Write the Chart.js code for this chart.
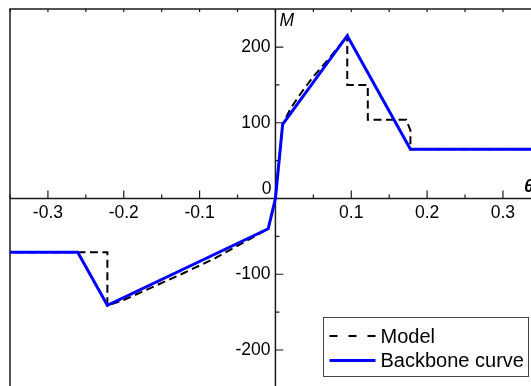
<!DOCTYPE html>
<html>
<head>
<meta charset="utf-8">
<script src="https://cdn.jsdelivr.net/npm/chart.js@4.4.1/dist/chart.umd.min.js"></script>
<style>
  html, body { margin: 0; padding: 0; background: #fff; }
</style>
</head>
<body>
<canvas id="chart" width="531" height="386"></canvas>
<script>
// Model (dashed) curve: rotation theta vs moment M
const modelTheta = [-0.36, -0.2216, -0.2216, -0.2, -0.16, -0.12, -0.08, -0.04, -0.0095, 0, 0.0095, 0.02, 0.035, 0.05, 0.07, 0.0947, 0.0947, 0.1218, 0.1218, 0.1724, 0.178, 0.178, 0.36];
const modelM     = [-71, -71, -141, -134, -116, -98, -79, -57, -40, 0, 98, 119, 141, 161, 184, 215, 150, 150, 104, 104, 90, 65, 65];

// Backbone curve (blue)
const backboneTheta = [-0.36, -0.2607, -0.2216, -0.0095, 0, 0.0095, 0.0947, 0.178, 0.36];
const backboneM     = [-71, -71, -141, -40, 0, 98, 215, 65, 65];

const xTicks = [-0.3, -0.2, -0.1, 0.1, 0.2, 0.3];
const yTicks = [200, 100, -100, -200];
const xMin = -0.35, xMax = 0.337;
const yMin = -247.5, yMax = 250.2;

function toPoints(xs, ys) {
  return xs.map((v, i) => ({ x: v, y: ys[i] }));
}

const FONT = '"Liberation Sans", Arial, sans-serif';

// frame, axes through the origin, ticks and labels
const crossAxes = {
  id: 'crossAxes',
  beforeDatasetsDraw(chart) {
    const { ctx, chartArea: a, scales: { x, y } } = chart;
    const x0 = x.getPixelForValue(0), y0 = y.getPixelForValue(0);
    ctx.save();
    ctx.strokeStyle = '#1a1a1a';
    ctx.lineWidth = 1.5;
    ctx.beginPath();
    ctx.moveTo(a.left, a.bottom + 2);
    ctx.lineTo(a.left, a.top);
    ctx.lineTo(a.right + 2, a.top);
    ctx.moveTo(a.left, y0);
    ctx.lineTo(a.right + 2, y0);
    ctx.moveTo(x0, a.top);
    ctx.lineTo(x0, a.bottom + 2);
    ctx.stroke();

    ctx.lineWidth = 1.2;
    ctx.beginPath();
    for (let k = -7; k <= 6; k++) {
      const px = x.getPixelForValue(k * 0.05);
      // top frame ticks
      ctx.moveTo(px, a.top);
      ctx.lineTo(px, a.top + 3);
      if (k === 0) continue;
      const len = k % 2 === 0 ? 8 : 4;
      ctx.moveTo(px, y0);
      ctx.lineTo(px, y0 - len);
    }
    for (let k = -4; k <= 4; k++) {
      if (k === 0) continue;
      const py = y.getPixelForValue(k * 50);
      const len = k % 2 === 0 ? 8 : 4;
      ctx.moveTo(x0, py);
      ctx.lineTo(x0 + len, py);
    }
    ctx.stroke();

    ctx.fillStyle = '#000';
    ctx.font = '17.5px ' + FONT;
    ctx.textAlign = 'center';
    ctx.textBaseline = 'middle';
    xTicks.forEach(v => ctx.fillText(String(v), x.getPixelForValue(v), y0 + 15));
    ctx.textAlign = 'right';
    yTicks.forEach(v => ctx.fillText(String(v), x0 - 5, y.getPixelForValue(v)));
    ctx.fillText('0', x0 - 4, y0 - 9);

    ctx.font = 'italic 17.5px ' + FONT;
    ctx.textAlign = 'left';
    ctx.fillText('M', x0 + 4, a.top + 12);
    ctx.font = 'italic bold 18px ' + FONT;
    ctx.fillText('\u03B8', a.right - 7, y0 - 11);
    ctx.restore();
  },
  afterDraw(chart) {
    const { ctx, chartArea: a } = chart;
    const ds = chart.data.datasets;
    const bx = a.right - 207.5, by = a.top + 308.5, bw = 205, bh = 59;
    ctx.save();
    ctx.fillStyle = '#fff';
    ctx.fillRect(bx, by, bw, bh);
    ctx.strokeStyle = '#444';
    ctx.lineWidth = 1;
    ctx.strokeRect(bx, by, bw, bh);
    ctx.font = '20px ' + FONT;
    ctx.textAlign = 'left';
    ctx.textBaseline = 'middle';
    ds.forEach((d, i) => {
      const ly = by + 18.5 + i * 24.5;
      ctx.beginPath();
      ctx.setLineDash(d.borderDash ? [8, 11] : []);
      ctx.strokeStyle = d.borderColor;
      ctx.lineWidth = d.borderWidth;
      ctx.moveTo(bx + 6, ly);
      ctx.lineTo(bx + 52, ly);
      ctx.stroke();
      ctx.setLineDash([]);
      ctx.fillStyle = '#000';
      ctx.fillText(d.label, bx + 57, ly + 1);
    });
    ctx.restore();
  }
};

new Chart(document.getElementById('chart').getContext('2d'), {
  type: 'scatter',
  data: {
    datasets: [
      {
        label: 'Model',
        data: toPoints(modelTheta, modelM),
        showLine: true,
        borderColor: '#000',
        borderWidth: 2,
        borderDash: [8, 4.5],
        pointRadius: 0,
        tension: 0,
        order: 1
      },
      {
        label: 'Backbone curve',
        data: toPoints(backboneTheta, backboneM),
        showLine: true,
        borderColor: '#0000ff',
        borderWidth: 3,
        pointRadius: 0,
        tension: 0,
        order: 0
      }
    ]
  },
  options: {
    responsive: false,
    devicePixelRatio: 1,
    animation: false,
    layout: { padding: { left: 10, top: 9, right: 0, bottom: 0 } },
    plugins: { legend: { display: false }, tooltip: { enabled: false } },
    scales: {
      x: { type: 'linear', min: xMin, max: xMax, display: false },
      y: { type: 'linear', min: yMin, max: yMax, display: false }
    }
  },
  plugins: [crossAxes]
});
</script>
</body>
</html>
